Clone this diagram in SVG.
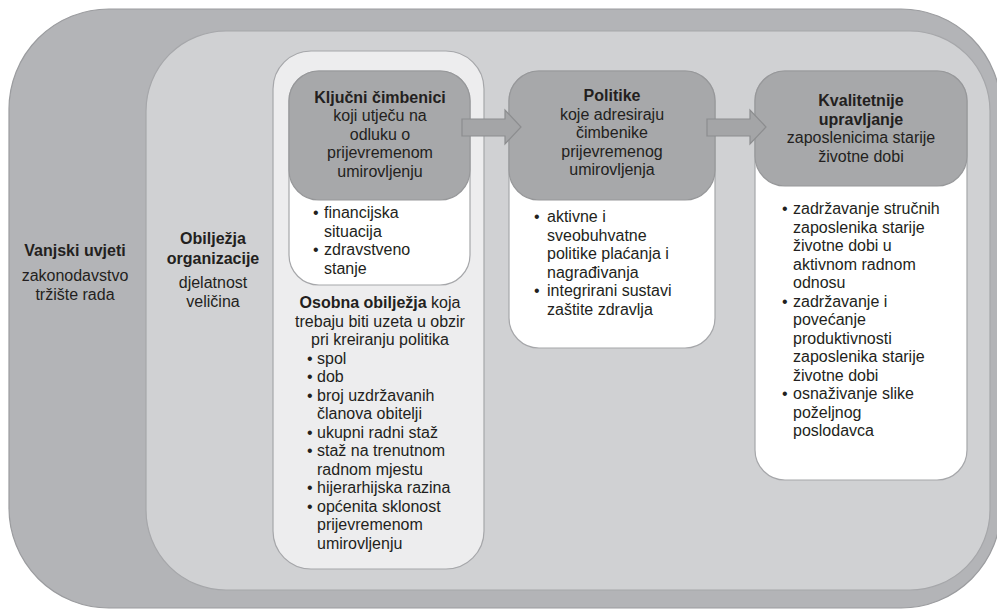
<svg xmlns="http://www.w3.org/2000/svg" width="997" height="609" viewBox="0 0 997 609">
<style>
text{font-family:"Liberation Sans",Arial,sans-serif;font-size:16px;fill:#231f20}
.c{text-anchor:middle}
.b{font-weight:bold}
.outer{fill:#b3b4b7;stroke:#9b9c9f;stroke-width:1.2}
.inner{fill:#d0d1d3;stroke:#a6a7aa;stroke-width:1.2}
.light{fill:#ededee;stroke:#a6a7aa;stroke-width:1.2}
.white{fill:#ffffff;stroke:#a6a7aa;stroke-width:1.2}
.head{fill:#a7a8aa;stroke:#97989a;stroke-width:1.2}
.arrow{fill:#a4a5a7;stroke:#8c8d8f;stroke-width:1.2}
</style>
<rect width="997" height="609" fill="#ffffff"/>
<g id="vanjski-uvjeti">
<rect class="outer" x="9" y="9" width="992" height="599" rx="100" ry="100"/>
<text class="c b" x="75" y="256">Vanjski uvjeti</text>
<text class="c" x="75" y="281">zakonodavstvo</text>
<text class="c" x="75" y="299.5">tržište rada</text>
</g>
<g id="obiljezja-organizacije">
<rect class="inner" x="146" y="31" width="844" height="559" rx="80" ry="80"/>
<text class="c b" x="213" y="244">Obilježja</text>
<text class="c b" x="213" y="264">organizacije</text>
<text class="c" x="213" y="288">djelatnost</text>
<text class="c" x="213" y="306.5">veličina</text>
</g>
<g id="osobna-obiljezja">
<rect class="light" x="273" y="51" width="211" height="518" rx="38" ry="38"/>
<text class="c" x="380" y="308"><tspan class="b">Osobna obilježja</tspan> koja</text>
<text class="c" x="380" y="326.5">trebaju biti uzeta u obzir</text>
<text class="c" x="380" y="345">pri kreiranju politika</text>
<text x="307" y="363.5">•</text><text x="317" y="363.5">spol</text>
<text x="307" y="382">•</text><text x="317" y="382">dob</text>
<text x="307" y="400.5">•</text><text x="317" y="400.5">broj uzdržavanih</text>
<text x="317" y="419">članova obitelji</text>
<text x="307" y="437.5">•</text><text x="317" y="437.5">ukupni radni staž</text>
<text x="307" y="456">•</text><text x="317" y="456">staž na trenutnom</text>
<text x="317" y="474.5">radnom mjestu</text>
<text x="307" y="493">•</text><text x="317" y="493">hijerarhijska razina</text>
<text x="307" y="511.5">•</text><text x="317" y="511.5">općenita sklonost</text>
<text x="317" y="530">prijevremenom</text>
<text x="317" y="548.5">umirovljenju</text>
</g>
<g id="kljucni-cimbenici">
<rect class="white" x="289" y="71" width="181" height="214" rx="30" ry="30"/>
<rect class="head" x="289" y="71" width="181" height="129" rx="30" ry="30"/>
<text class="c b" x="380" y="103">Ključni čimbenici</text>
<text class="c" x="380" y="121.4">koji utječu na</text>
<text class="c" x="380" y="139.8">odluku o</text>
<text class="c" x="380" y="158.2">prijevremenom</text>
<text class="c" x="380" y="176.6">umirovljenju</text>
<text x="313" y="218">•</text><text x="324" y="218">financijska</text>
<text x="324" y="236.5">situacija</text>
<text x="313" y="255">•</text><text x="324" y="255">zdravstveno</text>
<text x="324" y="273.5">stanje</text>
</g>
<g id="politike">
<rect class="white" x="509" y="71" width="206" height="277" rx="30" ry="30"/>
<rect class="head" x="509" y="71" width="206" height="129" rx="30" ry="30"/>
<text class="c b" x="612" y="101">Politike</text>
<text class="c" x="612" y="119.5">koje adresiraju</text>
<text class="c" x="612" y="138">čimbenike</text>
<text class="c" x="612" y="156.5">prijevremenog</text>
<text class="c" x="612" y="175">umirovljenja</text>
<text x="534" y="222">•</text><text x="547" y="222">aktivne i</text>
<text x="547" y="240.5">sveobuhvatne</text>
<text x="547" y="259">politike plaćanja i</text>
<text x="547" y="277.5">nagrađivanja</text>
<text x="534" y="296">•</text><text x="547" y="296">integrirani sustavi</text>
<text x="547" y="314.5">zaštite zdravlja</text>
</g>
<g id="kvalitetnije-upravljanje">
<rect class="white" x="755" y="71" width="212" height="409" rx="30" ry="30"/>
<rect class="head" x="755" y="71" width="212" height="115" rx="30" ry="30"/>
<text class="c b" x="861" y="106">Kvalitetnije</text>
<text class="c b" x="861" y="124.5">upravljanje</text>
<text class="c" x="861" y="143">zaposlenicima starije</text>
<text class="c" x="861" y="161.5">životne dobi</text>
<text x="782" y="214">•</text><text x="793" y="214">zadržavanje stručnih</text>
<text x="793" y="232.5">zaposlenika starije</text>
<text x="793" y="251">životne dobi u</text>
<text x="793" y="269.5">aktivnom radnom</text>
<text x="793" y="288">odnosu</text>
<text x="782" y="306.5">•</text><text x="793" y="306.5">zadržavanje i</text>
<text x="793" y="325">povećanje</text>
<text x="793" y="343.5">produktivnosti</text>
<text x="793" y="362">zaposlenika starije</text>
<text x="793" y="380.5">životne dobi</text>
<text x="782" y="399">•</text><text x="793" y="399">osnaživanje slike</text>
<text x="793" y="417.5">poželjnog</text>
<text x="793" y="436">poslodavca</text>
</g>
<g id="connectors">
<polygon class="arrow" points="462,119 505,119 505,110 521,127 505,144 505,136 462,136"/>
<polygon class="arrow" points="707,119 750,119 750,110 766,127 750,144 750,136 707,136"/>
</g>
</svg>
